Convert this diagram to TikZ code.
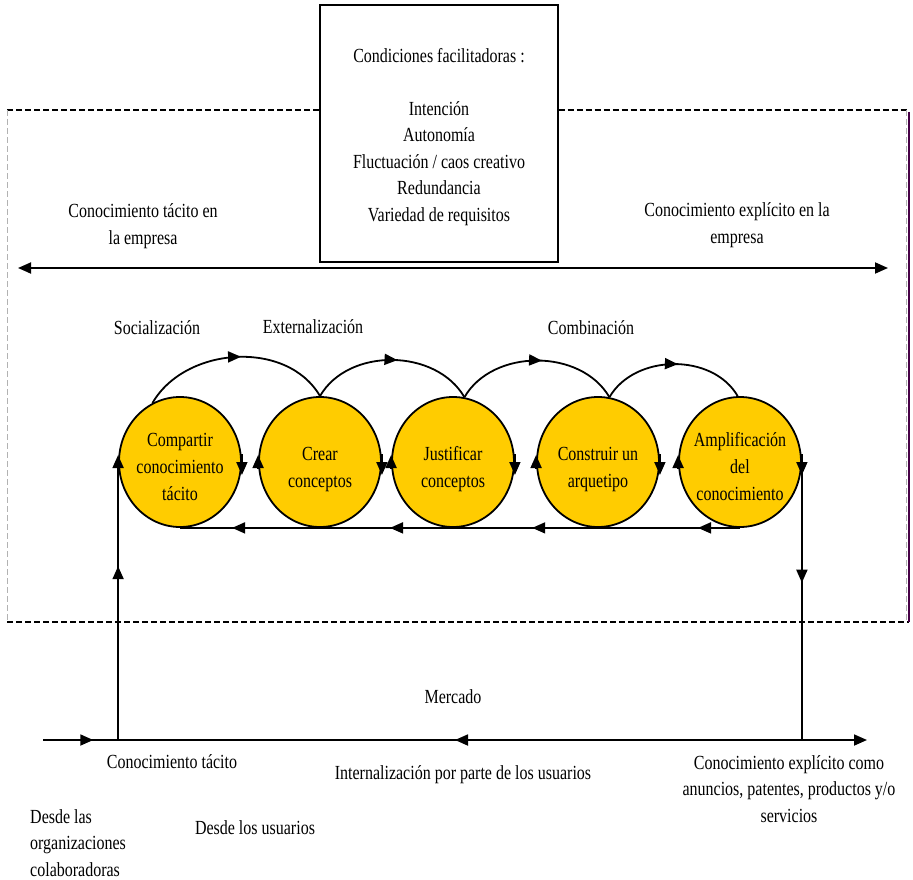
\documentclass[tikz,border=0pt]{standalone}
\usepackage{fontspec}
\setmainfont{Liberation Serif}[FakeStretch=0.8]
\usetikzlibrary{arrows.meta,shapes.geometric,decorations.markings}
\definecolor{stagegold}{RGB}{255,204,0}
\definecolor{edgeplum}{RGB}{70,0,70}

\begin{document}
\begin{tikzpicture}[x=1pt, y=-1pt, node distance=140pt, font=\fontsize{20}{26.5}\selectfont,
    midtip/.style={postaction={decorate, decoration={markings, mark=at position #1 with {\arrow{>}}}}},
    midback/.style={postaction={decorate, decoration={markings, mark=at position #1 with {\arrowreversed{>}}}}}]
    \tikzstyle{stage} = [ellipse, draw, line width=1.8pt, fill=stagegold, minimum width=122pt, minimum height=130pt, inner xsep=-6pt, inner ysep=0pt, align=center, font=\fontsize{20}{27}\selectfont]
    \tikzstyle{cond} = [rectangle, draw, line width=1.2pt, minimum width=238pt, minimum height=257pt, align=center]
    \tikzstyle{note} = [inner sep=0pt, align=center]
    \tikzstyle{arrow} = [line width=1.8pt, >={Triangle[length=13pt,width=11pt]}]
    \tikzstyle{turn} = [arrow, ->]
    \tikzstyle{bandline} = [line width=2.2pt, dash pattern=on 6pt off 3pt]
    \tikzstyle{sideline} = [line width=0.7pt, gray!60, dash pattern=on 6pt off 3pt]

    \useasboundingbox (0,0) rectangle (913,880);

    % frame of the company
    \coordinate (fTL) at (7,110);
    \coordinate (fTR) at (909,110);
    \coordinate (fBL) at (7,622);
    \coordinate (fBR) at (909,622);

    \node [cond] (cond) at (439,133.5) {\rule{0pt}{21pt}Condiciones facilitadoras :\\[26.5pt]Intención\\Autonomía\\Fluctuación / caos creativo\\Redundancia\\Variedad de requisitos};

    \draw [bandline] (fTL) -- (fTL -| cond.west);
    \draw [bandline] (fTL -| cond.east) -- (fTR);
    \draw [bandline] (fBL) -- (fBR);
    \draw [sideline] (fTL) -- (fBL);
    \draw [sideline] ([xshift=-3pt]fTR) -- ([xshift=-3pt]fBR);
    \draw [line width=2pt, edgeplum] ([yshift=-2pt]fTR) -- (fBR);

    \coordinate (eL) at (18,268);
    \coordinate (eR) at (888,268);
    \draw [arrow, <->] (eL) -- (eR);
    \node [note] (tacit) at (143,226) {Conocimiento tácito en\\la empresa};
    \node [note] (explicit) at (737,225) {Conocimiento explícito en la\\empresa};

    % the five phases
    \node [stage] (c1) at (180,462) {\rule{0pt}{23pt}Compartir\\conocimiento\\tácito};
    \node [stage, right of=c1] (c2) {\rule{0pt}{29pt}Crear\\conceptos};
    \node [stage, right of=c2, node distance=133pt] (c3) {\rule{0pt}{29pt}Justificar\\conceptos};
    \node [stage, right of=c3, node distance=145pt] (c4) {\rule{0pt}{29pt}Construir un\\arquetipo};
    \node [stage, right of=c4, node distance=142pt] (c5) {\rule{0pt}{23pt}Amplificación\\del\\conocimiento};

    \node [note] (soc) at (157,328) {Socialización};
    \node [note] (ext) at (313,327) {Externalización};
    \node [note] (comb) at (591,328) {Combinación};

    \draw [arrow, midtip=0.53] (c1.115) to[out=60, in=120] (c2.90);
    \draw [arrow, midtip=0.53] (c2.90) to[out=60, in=120] (c3.80);
    \draw [arrow, midtip=0.53] (c3.80) to[out=60, in=120] (c4.80);
    \draw [arrow, midtip=0.53] (c4.80) to[out=60, in=120] (c5.92);

    \draw [turn] ([yshift=8pt]c1.east) -- ([yshift=-13pt]c1.east);
    \draw [turn] ([yshift=8pt]c2.east) -- ([yshift=-13pt]c2.east);
    \draw [turn] ([yshift=8pt]c3.east) -- ([yshift=-13pt]c3.east);
    \draw [turn] ([yshift=8pt]c4.east) -- ([yshift=-13pt]c4.east);
    \draw [turn] ([yshift=8pt]c5.east) -- ([yshift=-13pt]c5.east);
    \draw [turn] ([yshift=-6pt]c2.west) -- ([yshift=7pt]c2.west);
    \draw [turn] ([yshift=-6pt]c3.west) -- ([yshift=7pt]c3.west);
    \draw [turn] ([yshift=-6pt]c4.west) -- ([yshift=7pt]c4.west);
    \draw [turn] ([yshift=-6pt]c5.west) -- ([yshift=7pt]c5.west);

    \draw [arrow, midtip=0.075, midtip=0.371, midtip=0.625, midtip=0.907] (c5.south) -- (c1.south);

    % market
    \coordinate (mL) at (43,740);
    \coordinate (mR) at (867,740);
    \coordinate (tin) at (c1.west |- mL);
    \coordinate (tout) at (c5.east |- mL);
    \draw [arrow, ->, midtip=0.061, midback=0.5] (mL) -- (mR);
    \draw [arrow, ->, midtip=0.61] (tin) -- ([yshift=7pt]c1.west);
    \draw [arrow, midtip=0.45] ([yshift=8pt]c5.east) -- (tout);

    \node [note] (market) at (453,697) {Mercado};
    \node [note] (tacitm) at (172,762) {Conocimiento tácito};
    \node [note] (intern) at (463,775) {Internalización por parte de los usuarios};
    \node [note] (explm) at (789,789) {Conocimiento explícito como\\anuncios, patentes, productos y/o\\servicios};
    \node [note, align=left, anchor=west] (orgs) at (30,843) {Desde las\\organizaciones\\colaboradoras};
    \node [note] (users) at (255,828) {Desde los usuarios};
\end{tikzpicture}
\end{document}
